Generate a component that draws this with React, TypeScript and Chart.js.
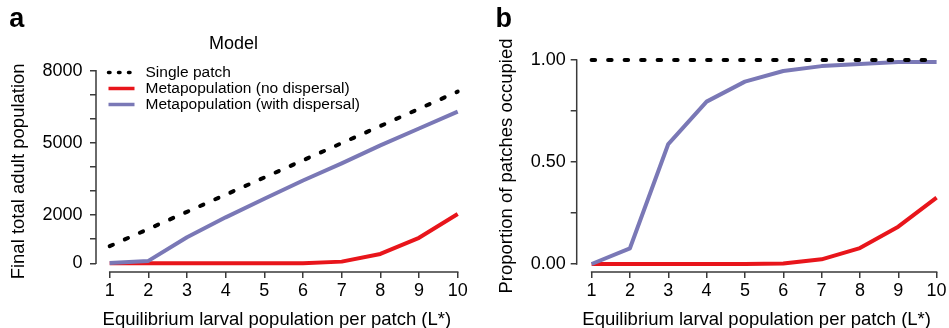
import { useEffect, useRef } from "react";
import { Chart, registerables } from "chart.js";

Chart.register(...registerables);

const FONT = '"Liberation Sans", Arial, Helvetica, sans-serif';
const AXIS_COLOR = "#3a3a3a";
const TEXT_COLOR = "#000000";

// ---- data ----
const larvalLevels = [1, 2, 3, 4, 5, 6, 7, 8, 9, 10];
const larvalTicks = [1, 2, 3, 4, 5, 6, 7, 8, 9, 10];
const populationTicks = [0, 1000, 2000, 3000, 4000, 5000, 6000, 7000, 8000];
const populationTickLabels = [0, 2000, 5000, 8000];
const proportionTicks = [0, 0.25, 0.5, 0.75, 1];
const proportionTickLabels = [0, 0.5, 1];

const seriesLabels = [
  "Single patch",
  "Metapopulation (no dispersal)",
  "Metapopulation (with dispersal)",
];
const seriesColors = ["#000000", "#e8151b", "#7a78b6"];

const singlePatchPopulation = [713, 1426, 2139, 2852, 3565, 4278, 4991, 5704, 6417, 7130];
const noDispersalPopulation = [0, 0, 0, 0, 0, 0, 70, 390, 1060, 2050];
const withDispersalPopulation = [10, 100, 1080, 1910, 2680, 3440, 4150, 4900, 5600, 6300];

const singlePatchProportion = [1, 1, 1, 1, 1, 1, 1, 1, 1, 1];
const noDispersalProportion = [0, 0, 0, 0, 0, 0.003, 0.023, 0.078, 0.183, 0.325];
const withDispersalProportion = [0, 0.077, 0.588, 0.796, 0.894, 0.946, 0.97, 0.98, 0.99, 0.99];

// ---- plugins ----
const axisLinePlugin = {
  id: "rAxisLines",
  beforeDatasetsDraw(chart: any) {
    const { ctx, chartArea, scales } = chart;
    const xs = scales.x;
    const ys = scales.y;
    const xt = xs.ticks;
    const yt = ys.ticks;
    ctx.save();
    ctx.strokeStyle = AXIS_COLOR;
    ctx.lineWidth = 1.5;
    ctx.beginPath();
    ctx.moveTo(xs.getPixelForValue(xt[0].value) - 0.75, chartArea.bottom);
    ctx.lineTo(xs.getPixelForValue(xt[xt.length - 1].value) + 0.75, chartArea.bottom);
    ctx.moveTo(chartArea.left, ys.getPixelForValue(yt[0].value) + 0.75);
    ctx.lineTo(chartArea.left, ys.getPixelForValue(yt[yt.length - 1].value) - 0.75);
    ctx.stroke();
    ctx.restore();
  },
};

const insetLegendPlugin = {
  id: "insetLegend",
  afterDatasetsDraw(chart: any) {
    const { ctx, chartArea } = chart;
    chart.data.datasets.forEach((ds: any, i: number) => {
      const yc = chartArea.top + 1.8 + i * 16;
      const x0 = chartArea.left + 12.5;
      const x1 = chartArea.left + 38.5;
      ctx.save();
      ctx.strokeStyle = ds.borderColor;
      ctx.lineWidth = ds.legendLineWidth || ds.borderWidth;
      ctx.lineCap = ds.borderCapStyle || "butt";
      ctx.setLineDash(ds.legendDash || ds.borderDash || []);
      ctx.beginPath();
      ctx.moveTo(x0, yc);
      ctx.lineTo(x1, yc);
      ctx.stroke();
      ctx.setLineDash([]);
      ctx.fillStyle = TEXT_COLOR;
      ctx.font = `15.5px ${FONT}`;
      ctx.textBaseline = "middle";
      ctx.textAlign = "left";
      ctx.fillText(ds.label, chartArea.left + 49.5, yc);
      ctx.restore();
    });
  },
};

function makeDatasets(values: number[][]) {
  return values.map((vals, i) => ({
    label: seriesLabels[i],
    data: larvalLevels.map((x, j) => ({ x, y: vals[j] })),
    borderColor: seriesColors[i],
    backgroundColor: seriesColors[i],
    borderWidth: 4,
    borderDash: i === 0 ? [3.5, 13] : [],
    legendDash: i === 0 ? [1.5, 8.5] : undefined,
    legendLineWidth: 3.5,
    borderCapStyle: i === 0 ? "round" : "butt",
    borderJoinStyle: "round",
    pointRadius: 0,
    tension: 0,
    fill: false,
    clip: false,
    order: i === 0 ? 0 : i === 1 ? 2 : 1,
  }));
}

const tickFont = { family: FONT, size: 18 };
const titleFont = { family: FONT, size: 18.5 };

function xScale(min: number) {
  return {
    type: "linear",
    min,
    max: 10,
    afterBuildTicks: (s: any) => {
      s.ticks = larvalTicks.map((v) => ({ value: v }));
    },
    afterFit: (s: any) => {
      s.height = 56;
    },
    ticks: {
      font: tickFont,
      color: TEXT_COLOR,
      padding: 2.4,
      maxRotation: 0,
      autoSkip: false,
      callback: (v: any) => String(v),
    },
    grid: {
      drawOnChartArea: false,
      drawTicks: true,
      tickLength: 6,
      color: AXIS_COLOR,
      lineWidth: 1.5,
    },
    border: { display: false },
    title: {
      display: true,
      text: "Equilibrium larval population per patch (L*)",
      font: titleFont,
      color: TEXT_COLOR,
      padding: { top: 0, bottom: -2.6 },
    },
  };
}

export default function App() {
  const refA = useRef<HTMLCanvasElement | null>(null);
  const refB = useRef<HTMLCanvasElement | null>(null);

  useEffect(() => {
    if (!refA.current || !refB.current) return;

    const chartA = new Chart(refA.current, {
      type: "line",
      data: {
        datasets: makeDatasets([
          singlePatchPopulation,
          noDispersalPopulation,
          withDispersalPopulation,
        ]) as any,
      },
      options: {
        animation: false,
        responsive: false,
        devicePixelRatio: 1,
        events: [],
        layout: { padding: { left: 9.3, right: 17.3, top: 0, bottom: 0 } },
        plugins: {
          legend: { display: false },
          tooltip: { enabled: false },
          title: {
            display: true,
            text: "a",
            align: "start",
            color: TEXT_COLOR,
            font: { family: FONT, size: 27, weight: "bold" },
            padding: { top: 3.6, bottom: -2.7 },
          },
          subtitle: {
            display: true,
            text: "Model",
            align: "center",
            color: TEXT_COLOR,
            font: { family: FONT, size: 18 },
            padding: { top: 0, bottom: 15.8 },
          },
        },
        scales: {
          x: xScale(0.6457) as any,
          y: {
            type: "linear",
            min: -361,
            max: 8000,
            afterBuildTicks: (s: any) => {
              s.ticks = populationTicks.map((v) => ({ value: v }));
            },
            afterFit: (s: any) => {
              s.width = 96 - 9.3;
            },
            ticks: {
              font: tickFont,
              color: TEXT_COLOR,
              padding: 7.5,
              autoSkip: false,
              callback: (v: any) =>
                populationTickLabels.includes(Number(v)) ? String(v) : "",
            },
            grid: {
              drawOnChartArea: false,
              drawTicks: true,
              tickLength: 6,
              color: AXIS_COLOR,
              lineWidth: 1.5,
            },
            border: { display: false },
            title: {
              display: true,
              text: "Final total adult population",
              font: titleFont,
              color: TEXT_COLOR,
              padding: { top: -1.8, bottom: 0 },
            },
          } as any,
        },
      },
      plugins: [axisLinePlugin, insetLegendPlugin],
    } as any);

    const chartB = new Chart(refB.current, {
      type: "line",
      data: {
        datasets: makeDatasets([
          singlePatchProportion,
          noDispersalProportion,
          withDispersalProportion,
        ]) as any,
      },
      options: {
        animation: false,
        responsive: false,
        devicePixelRatio: 1,
        events: [],
        layout: { padding: { left: 15.5, right: 10.3, top: 0, bottom: 0 } },
        plugins: {
          legend: { display: false },
          tooltip: { enabled: false },
          title: {
            display: true,
            text: "b",
            align: "start",
            color: TEXT_COLOR,
            font: { family: FONT, size: 27, weight: "bold" },
            padding: { top: 3.6, bottom: 24 },
          },
        },
        scales: {
          x: xScale(0.611) as any,
          y: {
            type: "linear",
            min: -0.0392,
            max: 1,
            afterBuildTicks: (s: any) => {
              s.ticks = proportionTicks.map((v) => ({ value: v }));
            },
            afterFit: (s: any) => {
              s.width = 96.7 - 15.5;
            },
            ticks: {
              font: tickFont,
              color: TEXT_COLOR,
              padding: 5,
              autoSkip: false,
              callback: (v: any) =>
                proportionTickLabels.some((t) => Math.abs(t - Number(v)) < 1e-9)
                  ? Number(v).toFixed(2)
                  : "",
            },
            grid: {
              drawOnChartArea: false,
              drawTicks: true,
              tickLength: 6,
              color: AXIS_COLOR,
              lineWidth: 1.5,
            },
            border: { display: false },
            title: {
              display: true,
              text: "Proportion of patches occupied",
              font: titleFont,
              color: TEXT_COLOR,
              padding: { top: 0.2, bottom: 0 },
            },
          } as any,
        },
      },
      plugins: [axisLinePlugin],
    } as any);

    return () => {
      chartA.destroy();
      chartB.destroy();
    };
  }, []);

  return (
    <div
      style={{
        position: "absolute",
        left: 0,
        top: 0,
        width: 949,
        height: 328,
        background: "#ffffff",
        overflow: "hidden",
      }}
    >
      <canvas
        ref={refA}
        width={475}
        height={328}
        style={{ position: "absolute", left: 0, top: 0, width: 475, height: 328 }}
      />
      <canvas
        ref={refB}
        width={469}
        height={328}
        style={{ position: "absolute", left: 480, top: 0, width: 469, height: 328 }}
      />
    </div>
  );
}
